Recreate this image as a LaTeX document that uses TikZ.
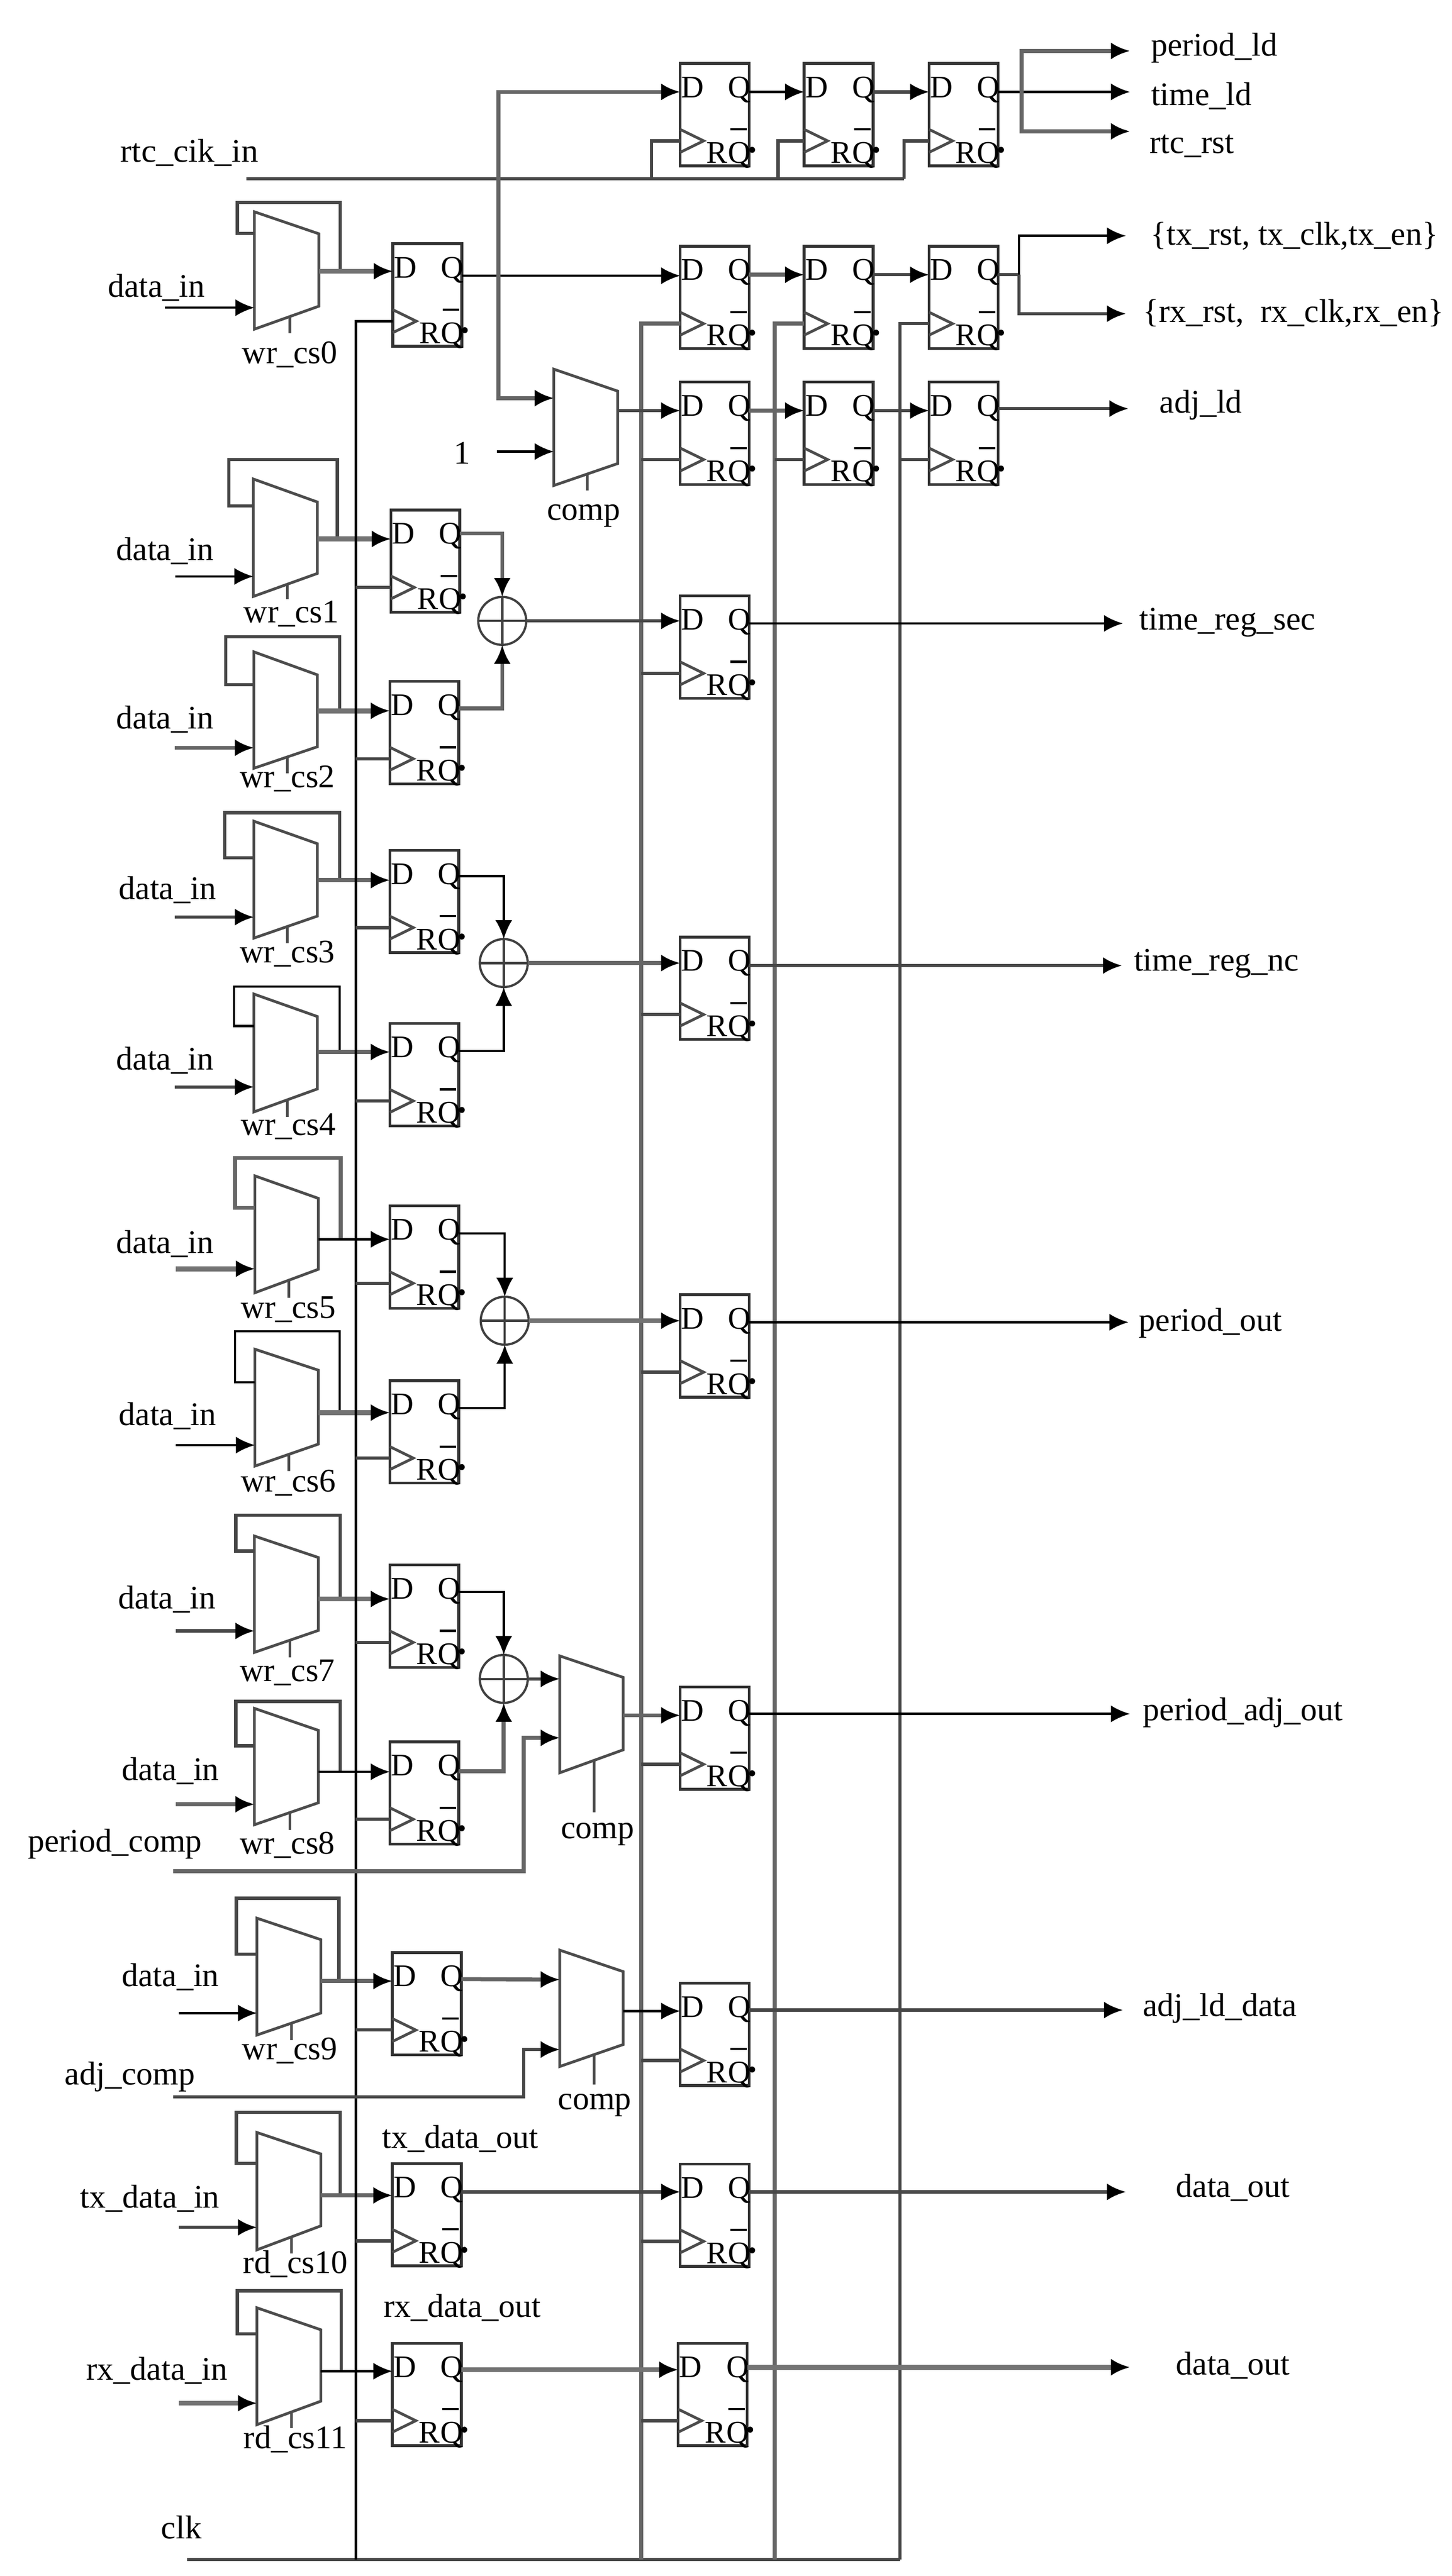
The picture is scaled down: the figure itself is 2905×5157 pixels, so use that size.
\documentclass[tikz,border=0pt]{standalone}
\usepackage{fontspec}
\setmainfont{Liberation Serif}
\usetikzlibrary{arrows.meta,calc}
\tikzset{
  wthin/.style={draw=black,line width=4.5pt},
  wmid/.style={draw=black!72,line width=6.5pt},
  wthick/.style={draw=black!55,line width=10pt},
  wbus/.style={draw=black!60,line width=8pt},
  arr/.style={-{Latex[length=38pt,width=34pt,color=black]}},
  ffbox/.style={draw=black!80,line width=5.5pt,minimum width=138pt,minimum height=205pt,inner sep=0pt,outer sep=0pt,anchor=north west},
  muxline/.style={draw=black!70,line width=5.5pt,line join=miter},
  lab/.style={anchor=base,inner sep=0pt,font=\fontsize{66}{70}\selectfont},
  pin/.style={anchor=base,inner sep=0pt,font=\fontsize{63}{65}\selectfont},
  xorc/.style={circle,draw=black!75,line width=4.5pt,minimum size=96pt,inner sep=0pt,outer sep=0pt},
}
% name, x, y, D offset, Q offset
\newcommand{\flop}[5]{%
  \node[ffbox] (#1) at (#2,#3) {};
  \coordinate (#1-d) at (#2,#3+#4);
  \coordinate (#1-q) at (#2+138,#3+#5);
  \coordinate (#1-c) at (#2,#3+155);
  \draw[muxline] (#2,#3+132) -- (#2+47,#3+155) -- (#2,#3+178);
  \node[pin] (#1-Dt) at (#2+25,#3+68) {D};
  \node[pin] (#1-Qt) at (#2+119,#3+68) {Q};
  \node[pin] (#1-Rt) at (#2+74,#3+199) {R};
  \node[pin] (#1-Nt) at (#2+119,#3+199) {Q};
  \draw[wthin] (#2+100,#3+132) -- (#2+133,#3+132);
  \fill (#2+144,#3+173) circle (6pt);
}
% name, xl, xr, left top, left bottom, right top, right bottom, stub x, stub end y
\newcommand{\mux}[9]{%
  \coordinate (#1-lt) at (#2,#4);
  \coordinate (#1-lb) at (#2,#5);
  \coordinate (#1-rt) at (#3,#6);
  \coordinate (#1-rb) at (#3,#7);
  \draw[muxline] (#1-lt) -- (#1-rt) -- (#1-rb) -- (#1-lb) -- cycle;
  \coordinate (#1-s) at ($(#1-lb)!{(#8-#2)/(#3-#2)}!(#1-rb)$);
  \coordinate (#1-se) at (#8,#9);
  \draw[muxline] (#1-s) -- (#1-se);
}
% mux name, style, fb x, top y, left x, return y
\newcommand{\fbk}[6]{%
  \coordinate (#1-fs) at (#1-o -| #3,0);
  \coordinate (#1-fr) at (#1-lt |- 0,#6);
  \draw[#2] (#1-fs) |- (#5,#4) |- (#1-fr);
}
\newcommand{\lbl}[4]{\node[lab] (#1) at (#2,#3+19) {#4};}
\newcommand{\xorg}[3]{%
  \node[xorc] (#1) at (#2,#3) {};
  \draw[draw=black!75,line width=4.5pt] (#1.north) -- (#1.south) (#1.west) -- (#1.east);
}
\begin{document}
\begin{tikzpicture}[x=1pt,y=-1pt]
\useasboundingbox (0,0) rectangle (2905,5157);
\fill[white] (0,0) rectangle (2905,5157);

% flops
\flop{a1}{1361}{127}{57}{57}
\flop{a2}{1609}{127}{57}{57}
\flop{a3}{1859}{127}{57}{57}
\flop{b1}{1361}{493}{57}{57}
\flop{b2}{1609}{493}{57}{57}
\flop{b3}{1859}{493}{57}{57}
\flop{c1}{1361}{765}{57}{57}
\flop{c2}{1609}{765}{57}{57}
\flop{c3}{1859}{765}{57}{53}
\flop{f0}{786}{488}{55}{64}
\flop{f1}{782}{1021}{58}{47}
\flop{f2}{780}{1364}{59}{54}
\flop{f3}{780}{1702}{60}{52}
\flop{f4}{780}{2049}{57}{55}
\flop{f5}{780}{2414}{67}{55}
\flop{f6}{780}{2764}{64}{55}
\flop{f7}{780}{3133}{68}{54}
\flop{f8}{780}{3487}{60}{59}
\flop{f9}{785}{3909}{57}{53}
\flop{f10}{785}{4331}{64}{57}
\flop{f11}{785}{4691}{56}{53}
\flop{g2}{1361}{1193}{51}{55}
\flop{g3}{1361}{1876}{52}{57}
\flop{g5}{1361}{2592}{52}{55}
\flop{g7}{1361}{3377}{55}{54}
\flop{g9}{1361}{3970}{54}{54}
\flop{g10}{1361}{4332}{54}{56}
\flop{g11}{1357}{4691}{53}{48}

% muxes
\mux{m0}{509}{638}{424}{659}{468}{613}{580}{667}
\mux{m1}{507}{635}{959}{1194}{1005}{1148}{575}{1200}
\mux{m2}{508}{635}{1305}{1538}{1351}{1495}{575}{1548}
\mux{m3}{508}{635}{1644}{1878}{1689}{1834}{575}{1888}
\mux{m4}{508}{635}{1990}{2226}{2035}{2180}{575}{2236}
\mux{m5}{510}{637}{2354}{2588}{2399}{2541}{578}{2598}
\mux{m6}{510}{637}{2701}{2935}{2743}{2891}{578}{2945}
\mux{m7}{509}{637}{3075}{3308}{3118}{3264}{580}{3318}
\mux{m8}{509}{637}{3420}{3653}{3464}{3609}{580}{3663}
\mux{m9}{514}{642}{3840}{4074}{3883}{4030}{583}{4084}
\mux{m10}{514}{642}{4269}{4504}{4312}{4456}{583}{4511}
\mux{m11}{514}{642}{4620}{4854}{4664}{4807}{583}{4861}
\mux{cc}{1108}{1236}{739}{972}{783}{928}{1175}{982}
\mux{c7}{1120}{1247}{3315}{3549}{3358}{3503}{1189}{3628}
\mux{c9}{1120}{1247}{3904}{4137}{3947}{4093}{1189}{4173}

% mux output coordinates
\coordinate (m0-o) at (638,543);
\coordinate (m1-o) at (635,1079);
\coordinate (m2-o) at (635,1423);
\coordinate (m3-o) at (635,1762);
\coordinate (m4-o) at (635,2106);
\coordinate (m5-o) at (637,2481);
\coordinate (m6-o) at (637,2828);
\coordinate (m7-o) at (637,3201);
\coordinate (m8-o) at (637,3547);
\coordinate (m9-o) at (642,3966);
\coordinate (m10-o) at (642,4395);
\coordinate (m11-o) at (642,4747);
\coordinate (cc-o) at (1236,822);
\coordinate (c7-o) at (1247,3434);
\coordinate (c9-o) at (1247,4026);

% mux data inputs
\coordinate (i0) at (330,616);
\coordinate (i1) at (351,1154);
\coordinate (i2) at (350,1497);
\coordinate (i3) at (350,1836);
\coordinate (i4) at (350,2176);
\coordinate (i5) at (352,2540);
\coordinate (i6) at (352,2893);
\coordinate (i7) at (352,3265);
\coordinate (i8) at (352,3612);
\coordinate (i9) at (358,4030);
\coordinate (i10) at (358,4459);
\coordinate (i11) at (358,4811);
\draw[wthin,arr] (i0) -- (i0 -| m0-lt);
\draw[wthin,arr] (i1) -- (i1 -| m1-lt);
\draw[wbus,arr] (i2) -- (i2 -| m2-lt);
\draw[wmid,arr] (i3) -- (i3 -| m3-lt);
\draw[wmid,arr] (i4) -- (i4 -| m4-lt);
\draw[wthick,arr] (i5) -- (i5 -| m5-lt);
\draw[wthin,arr] (i6) -- (i6 -| m6-lt);
\draw[wmid,arr] (i7) -- (i7 -| m7-lt);
\draw[wbus,arr] (i8) -- (i8 -| m8-lt);
\draw[wthin,arr] (i9) -- (i9 -| m9-lt);
\draw[wmid,arr] (i10) -- (i10 -| m10-lt);
\draw[wthick,arr] (i11) -- (i11 -| m11-lt);

% feedback
\fbk{m0}{wmid}{681}{405}{475}{467}
\fbk{m1}{wmid}{675}{920}{458}{1013}
\fbk{m2}{wmid}{680}{1275}{452}{1371}
\fbk{m3}{wmid}{680}{1627}{450}{1717}
\fbk{m4}{wthin}{680}{1975}{468}{2054}
\fbk{m5}{wbus}{682}{2318}{470}{2418}
\fbk{m6}{wthin}{680}{2665}{470}{2767}
\fbk{m7}{wmid}{681}{3033}{472}{3105}
\fbk{m8}{wmid}{681}{3406}{472}{3495}
\fbk{m9}{wmid}{678}{3800}{473}{3912}
\fbk{m10}{wmid}{681}{4229}{473}{4331}
\fbk{m11}{wmid}{683}{4586}{475}{4672}

% mux -> flop
\draw[wthick,arr] (m0-o) -- (m0-o -| f0-d);
\draw[wthick,arr] (m1-o) -- (m1-o -| f1-d);
\draw[wthick,arr] (m2-o) -- (m2-o -| f2-d);
\draw[wbus,arr] (m3-o) -- (m3-o -| f3-d);
\draw[wbus,arr] (m4-o) -- (m4-o -| f4-d);
\draw[wthin,arr] (m5-o) -- (m5-o -| f5-d);
\draw[wthick,arr] (m6-o) -- (m6-o -| f6-d);
\draw[wthick,arr] (m7-o) -- (m7-o -| f7-d);
\draw[wthin,arr] (m8-o) -- (m8-o -| f8-d);
\draw[wbus,arr] (m9-o) -- (m9-o -| f9-d);
\draw[wbus,arr] (m10-o) -- (m10-o -| f10-d);
\draw[wthin,arr] (m11-o) -- (m11-o -| f11-d);

% clock buses
\coordinate (clkl) at (374,5124);
\coordinate (busa) at (712,5124);
\coordinate (busb) at (1283,5124);
\coordinate (busc) at (1550,5124);
\coordinate (busd) at (1801,5124);
\draw[wmid] (clkl) -- (busd);
\draw[wthin] (busa) -- (busa |- f0-c) -- (f0-c);
\draw[wbus] (busb) -- (busb |- b1-c) -- (b1-c);
\draw[wbus] (busc) -- (busc |- b2-c) -- (b2-c);
\draw[wmid] (busd) -- (busd |- b3-c) -- (b3-c);
\foreach \n in {f1,f2,f3,f4,f5,f6,f7,f8,f9,f10,f11}
  \draw[wmid] (busa |- \n-c) -- (\n-c);
\foreach \n in {c1,g2,g3,g5,g7,g9,g10,g11}
  \draw[wmid] (busb |- \n-c) -- (\n-c);
\draw[wmid] (busc |- c2-c) -- (c2-c);
\draw[wmid] (busd |- c3-c) -- (c3-c);

% rtc clock
\coordinate (rtcl) at (493,358);
\coordinate (rtcr) at (1809,358);
\coordinate (rtc1) at (1304,358);
\coordinate (rtc2) at (1557,358);
\draw[wmid] (rtcl) -- (rtcr);
\draw[wmid] (rtc1) |- (a1-c);
\draw[wmid] (rtc2) |- (a2-c);
\draw[wmid] (rtcr) |- (a3-c);

% load vertical from f0 Q
\coordinate (vt) at (997,552);
\draw[wthin,arr] (f0-q) -- (f0-q -| b1-d);
\coordinate (cci1) at (1108,797);
\coordinate (cci2) at (1108,904);
\coordinate (one) at (994,904);
\draw[wbus,arr] (vt) |- (a1-d);
\draw[wbus,arr] (vt) |- (cci1);
\draw[wthin,arr] (one) -- (cci2);
\draw[wmid,arr] (cc-o) -- (cc-o -| c1-d);

% register chains
\draw[wthin,arr] (a1-q) -- (a2-d);
\draw[wmid,arr] (a2-q) -- (a3-d);
\draw[wbus,arr] (b1-q) -- (b2-d);
\draw[wmid,arr] (b2-q) -- (b3-d);
\draw[wbus,arr] (c1-q) -- (c2-d);
\draw[wmid,arr] (c2-q) -- (c3-d);

% top outputs
\coordinate (o1) at (2261,102);
\coordinate (o2) at (2261,184);
\coordinate (o3) at (2261,263);
\coordinate (bra) at (2044,184);
\draw[wthin,arr] (a3-q) -- (o2);
\draw[wbus,arr] (bra) |- (o1);
\draw[wbus,arr] (bra) |- (o3);
\coordinate (o4) at (2253,472);
\coordinate (o5) at (2253,628);
\coordinate (brb) at (2039,550);
\draw[wmid] (b3-q) -- (brb);
\draw[wthin,arr] (brb) |- (o4);
\draw[wmid,arr] (brb) |- (o5);
\coordinate (o6) at (2258,818);
\draw[wmid,arr] (c3-q) -- (o6);

% xors
\xorg{x1}{1005}{1243}
\xorg{x3}{1008}{1928}
\xorg{x5}{1010}{2644}
\xorg{x7}{1008}{3361}
\draw[wbus,arr] (f1-q) -| (x1.north);
\draw[wbus,arr] (f2-q) -| (x1.south);
\draw[wthin,arr] (f3-q) -| (x3.north);
\draw[wthin,arr] (f4-q) -| (x3.south);
\draw[wthin,arr] (f5-q) -| (x5.north);
\draw[wthin,arr] (f6-q) -| (x5.south);
\draw[wthin,arr] (f7-q) -| (x7.north);
\draw[wbus,arr] (f8-q) -| (x7.south);
\draw[wmid,arr] (x1.east) -- (x1.east -| g2-d);
\draw[wbus,arr] (x3.east) -- (x3.east -| g3-d);
\draw[wthick,arr] (x5.east) -- (x5.east -| g5-d);
\coordinate (c7i1) at (1120,3361);
\coordinate (c7i2) at (1120,3479);
\coordinate (c9i1) at (1120,3963);
\coordinate (c9i2) at (1120,4103);
\draw[wmid,arr] (x7.east) -- (c7i1);
\draw[wbus,arr] (f9-q) -- (c9i1);
\draw[wbus,arr] (c7-o) -- (c7-o -| g7-d);
\draw[wthin,arr] (c9-o) -- (c9-o -| g9-d);
\coordinate (pc) at (347,3746);
\coordinate (pcc) at (1048,3746);
\coordinate (ac) at (347,4198);
\coordinate (acc) at (1048,4198);
\draw[wbus,arr] (pc) -- (pcc) |- (c7i2);
\draw[wmid,arr] (ac) -- (acc) |- (c9i2);
\draw[wmid,arr] (f10-q) -- (f10-q -| g10-d);
\draw[wthick,arr] (f11-q) -- (f11-q -| g11-d);

% long outputs
\coordinate (o7) at (2247,1248);
\coordinate (o8) at (2245,1933);
\coordinate (o9) at (2258,2647);
\coordinate (o10) at (2261,3431);
\coordinate (o11) at (2247,4024);
\coordinate (o12) at (2253,4388);
\coordinate (o13) at (2261,4739);
\draw[wthin,arr] (g2-q) -- (o7);
\draw[wmid,arr] (g3-q) -- (o8);
\draw[wthin,arr] (g5-q) -- (o9);
\draw[wthin,arr] (g7-q) -- (o10);
\draw[wmid,arr] (g9-q) -- (o11);
\draw[wmid,arr] (g10-q) -- (o12);
\draw[wthick,arr] (g11-q) -- (o13);

% labels
\lbl{lrtc}{379}{305}{\scalebox{1.03}[1]{rtc\_cik\_in}}
\lbl{ld0}{313}{576}{data\_in}
\lbl{ld1}{330}{1103}{data\_in}
\lbl{ld2}{330}{1440}{data\_in}
\lbl{ld3}{335}{1781}{data\_in}
\lbl{ld4}{330}{2123}{data\_in}
\lbl{ld5}{330}{2490}{data\_in}
\lbl{ld6}{335}{2834}{data\_in}
\lbl{ld7}{334}{3201}{data\_in}
\lbl{ld8}{341}{3545}{data\_in}
\lbl{ld9}{341}{3957}{data\_in}
\lbl{ltx}{300}{4401}{tx\_data\_in}
\lbl{lrx}{314}{4746}{rx\_data\_in}
\lbl{lc0}{580}{709}{wr\_cs0}
\lbl{lc1}{583}{1227}{wr\_cs1}
\lbl{lc2}{575}{1557}{wr\_cs2}
\lbl{lc3}{575}{1908}{wr\_cs3}
\lbl{lc4}{577}{2254}{wr\_cs4}
\lbl{lc5}{577}{2620}{wr\_cs5}
\lbl{lc6}{577}{2967}{wr\_cs6}
\lbl{lc7}{575}{3347}{wr\_cs7}
\lbl{lc8}{575}{3692}{wr\_cs8}
\lbl{lc9}{580}{4104}{wr\_cs9}
\lbl{lc10}{591}{4532}{rd\_cs10}
\lbl{lc11}{591}{4883}{rd\_cs11}
\lbl{lcmp0}{1168}{1022}{comp}
\lbl{lcmp7}{1196}{3661}{comp}
\lbl{lcmp9}{1190}{4204}{comp}
\lbl{lone}{925}{910}{1}
\lbl{lpc}{230}{3688}{period\_comp}
\lbl{lac}{260}{4154}{adj\_comp}
\lbl{ltxo}{921}{4281}{tx\_data\_out}
\lbl{lrxo}{925}{4620}{rx\_data\_out}
\lbl{lclk}{363}{5063}{clk}
\lbl{lo1}{2430}{93}{period\_ld}
\lbl{lo2}{2404}{192}{time\_ld}
\lbl{lo3}{2385}{288}{rtc\_rst}
\lbl{lo4}{2590}{471}{\{tx\_rst, tx\_clk,tx\_en\}}
\lbl{lo5}{2588}{626}{\{rx\_rst,\ \ rx\_clk,rx\_en\}}
\lbl{lo6}{2403}{808}{adj\_ld}
\lbl{lo7}{2456}{1242}{time\_reg\_sec}
\lbl{lo8}{2434}{1925}{time\_reg\_nc}
\lbl{lo9}{2422}{2646}{period\_out}
\lbl{lo10}{2487}{3425}{period\_adj\_out}
\lbl{lo11}{2441}{4017}{adj\_ld\_data}
\lbl{lo12}{2467}{4379}{data\_out}
\lbl{lo13}{2467}{4735}{data\_out}
\end{tikzpicture}
\end{document}
